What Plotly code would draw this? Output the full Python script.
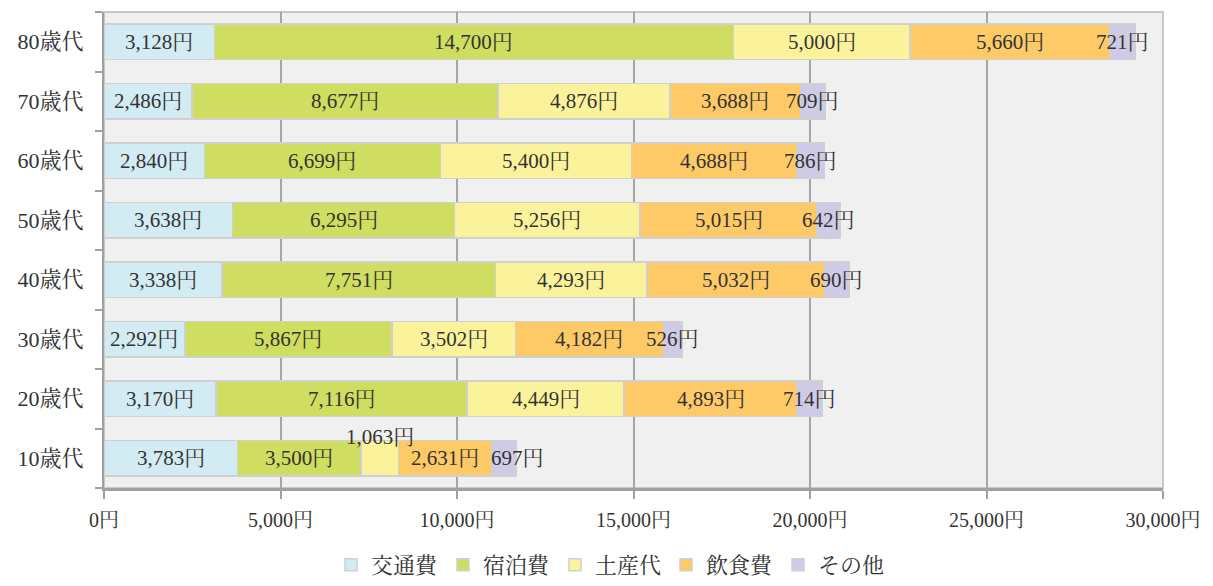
import plotly.graph_objects as go

ages = ["10歳代", "20歳代", "30歳代", "40歳代", "50歳代", "60歳代", "70歳代", "80歳代"]
series_names = ["交通費", "宿泊費", "土産代", "飲食費", "その他"]
transport = [3783, 3170, 2292, 3338, 3638, 2840, 2486, 3128]
lodging = [3500, 7116, 5867, 7751, 6295, 6699, 8677, 14700]
souvenir = [1063, 4449, 3502, 4293, 5256, 5400, 4876, 5000]
food = [2631, 4893, 4182, 5032, 5015, 4688, 3688, 5660]
other = [697, 714, 526, 690, 642, 786, 709, 721]
x_ticks = [0, 5000, 10000, 15000, 20000, 25000, 30000]

series = [transport, lodging, souvenir, food, other]
colors = ["#d3ecf4", "#cfdd60", "#fbf39b", "#fec967", "#cfcbe6"]

FONT = "Liberation Serif, Noto Serif CJK JP, Noto Sans CJK JP, serif"

fig = go.Figure()
for name, vals, col in zip(series_names, series, colors):
    fig.add_trace(go.Bar(
        y=ages, x=vals, name=name, orientation="h",
        marker=dict(color=col, line=dict(color="#d0d0d0", width=1.5)),
    ))

annotations = []
for i, age in enumerate(ages):
    cum = 0
    for s_idx, vals in enumerate(series):
        v = vals[i]
        center = cum + v / 2
        cum += v
        yshift = 0
        xshift = 0
        if age == "10歳代" and s_idx == 2:
            yshift = 21
        if age == "10歳代" and s_idx == 4:
            xshift = 14
        annotations.append(dict(
            x=center, y=age, xref="x", yref="y", text=f"{v:,}円",
            showarrow=False, yshift=yshift, xshift=xshift,
            font=dict(family=FONT, size=21, color="#333333"),
        ))

fig.update_layout(
    barmode="stack",
    bargap=0.41,
    width=1205, height=578,
    margin=dict(l=96, r=50, t=4, b=98),
    plot_bgcolor="#f0f0f0",
    paper_bgcolor="#ffffff",
    font=dict(family=FONT, size=18, color="#333333"),
    annotations=annotations,
    legend=dict(orientation="h", x=0.5, xanchor="center", xref="container",
                y=0.0, yanchor="bottom", yref="container",
                font=dict(family=FONT, size=22, color="#333333"),
                itemwidth=30, traceorder="normal"),
    shapes=[dict(type="rect", xref="paper", yref="paper", x0=0, x1=1, y0=0, y1=1,
                 line=dict(color="#c8c8c8", width=2), layer="below")],
)
fig.update_xaxes(
    range=[0, 30000], tickvals=x_ticks, ticktext=[f"{v:,}円" for v in x_ticks],
    showgrid=True, gridcolor="#a6a6a6", gridwidth=2, zeroline=False,
    showline=True, linecolor="#a0a0a0", linewidth=3,
    ticks="outside", ticklen=8, tickcolor="#a0a0a0", tickwidth=1.5,
    ticklabelstandoff=4,
    tickfont=dict(family=FONT, size=20, color="#333333"),
)
fig.update_yaxes(
    showgrid=False, showline=True, linecolor="#a0a0a0", linewidth=2,
    ticks="outside", tickson="boundaries", ticklen=7, tickcolor="#a0a0a0",
    tickwidth=1.5, ticklabelstandoff=14,
    tickfont=dict(family=FONT, size=22, color="#333333"),
)
fig.write_html("out.html")
